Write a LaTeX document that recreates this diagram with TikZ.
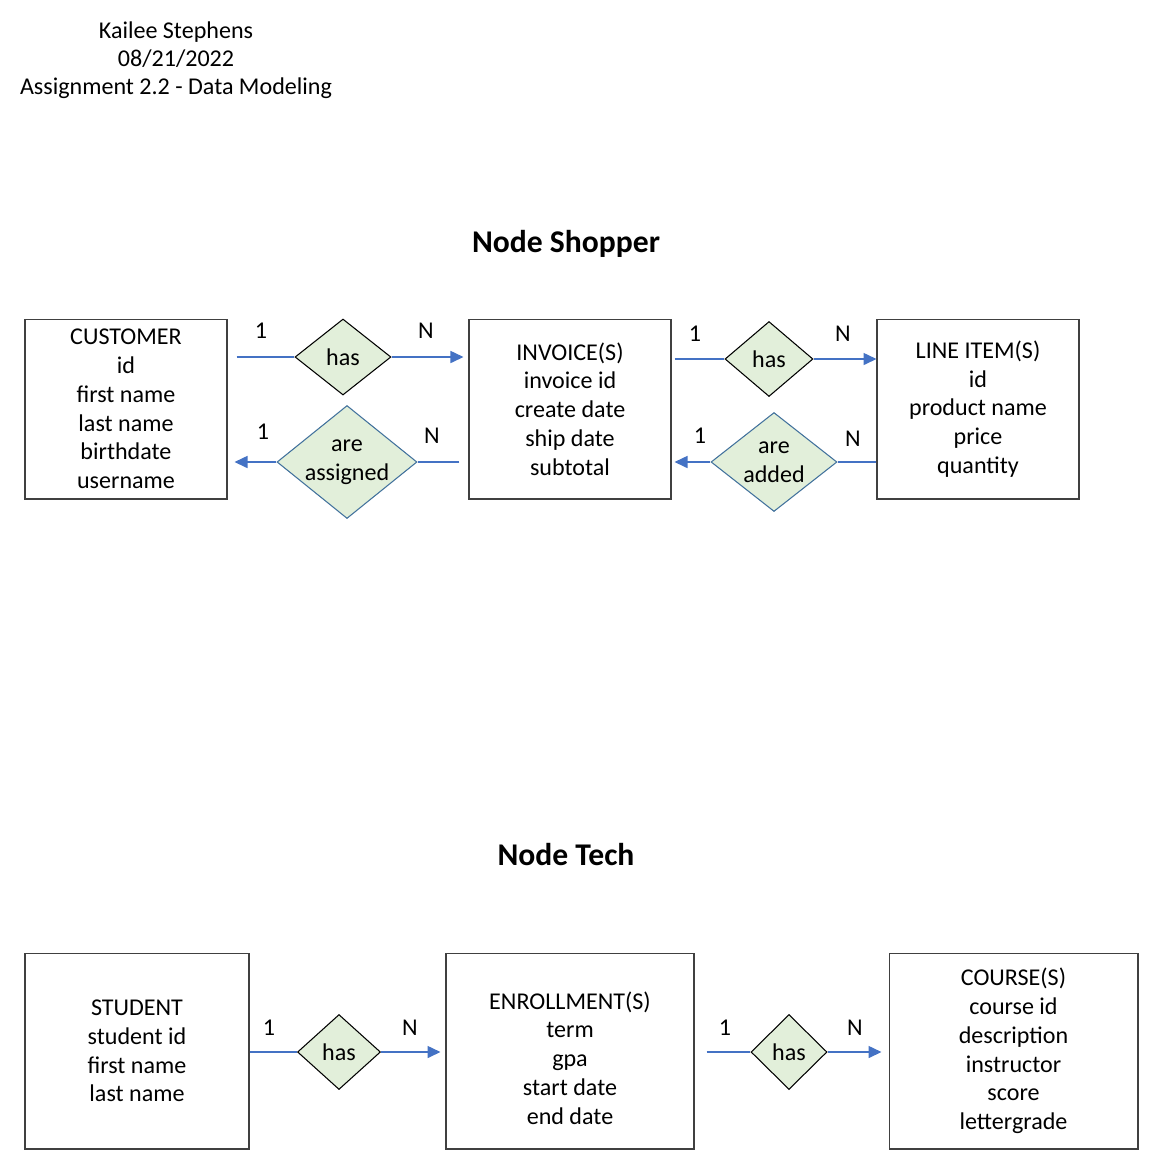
\documentclass[tikz,border=0pt]{standalone}
\usepackage{fontspec}
\setmainfont{Carlito}
\usepackage{xcolor}
\usetikzlibrary{arrows.meta,shapes.geometric}
\definecolor{linkblue}{HTML}{4472C4}
\definecolor{relfill}{HTML}{E2EFDA}
\definecolor{reledge}{HTML}{41719C}
\definecolor{boxgray}{HTML}{404040}
\tikzset{
	entity/.style={draw=boxgray, line width=0.6pt, align=center, inner sep=0pt, font=\fontsize{13.7}{16.4}\selectfont},
	rel/.style={diamond, draw=black, fill=relfill, line width=0.6pt, inner sep=0pt, align=center, font=\fontsize{13.7}{16.4}\selectfont},
	link/.style={draw=linkblue, line width=0.9pt},
	tolink/.style={link, -{Triangle[length=0.26cm,width=0.24cm]}},
	card/.style={font=\fontsize{13.7}{16.4}\selectfont},
	heading/.style={font=\fontsize{18}{21}\selectfont\bfseries}
}
\begin{document}
\begin{tikzpicture}[x=0.02cm,y=-0.02cm]
	\useasboundingbox (0,0) rectangle (1149,1161);
		%%  Header  %%%%%%%%
		\node[card, align=center, font=\fontsize{13.7}{15.9}\selectfont] (author) at (176,60) {Kailee Stephens\\08/21/2022\\Assignment 2.2 - Data Modeling};
		\node[heading] (shopper) at (566,244) {Node Shopper};
		\node[heading] (tech) at (566,855) {Node Tech};
		%%  Node Shopper  %%%%%%%%
		\node[entity, minimum width=4.04cm, minimum height=3.6cm] (cust) at (126,409) {CUSTOMER\\id\\first name\\last name\\birthdate\\username};
		\node[entity, minimum width=4.04cm, minimum height=3.6cm] (inv) at (570,409) {INVOICE(S)\\invoice id\\create date\\ship date\\subtotal};
		\node[entity, minimum width=4.04cm, minimum height=3.6cm] (item) at (978,409) {LINE ITEM(S)\\id\\product name\\price\\quantity};
		\node[rel, minimum width=1.92cm, minimum height=1.52cm] (has1) at (343,357) {has};
		\node[rel, draw=reledge, minimum width=2.8cm, minimum height=2.26cm, label={[card, align=center]center:are\\assigned}] (asg) at (347,462) {};
		\node[rel, minimum width=1.76cm, minimum height=1.5cm] (has2) at (769,359) {has};
		\node[rel, draw=reledge, minimum width=2.52cm, minimum height=1.98cm, label={[card, align=center]center:are\\added}] (add) at (774,462) {};
		\draw[link, shorten <=0.18cm] (cust.east |- has1.west) -- (has1.west);
		\draw[tolink, shorten >=0.1cm] (has1.east) -- (inv.west |- has1.east);
		\draw[link, shorten <=0.18cm] (inv.west |- asg.east) -- (asg.east);
		\draw[tolink, shorten >=0.14cm] (asg.west) -- (cust.east |- asg.west);
		\draw[link, shorten <=0.06cm] (inv.east |- has2.west) -- (has2.west);
		\draw[tolink] (has2.east) -- (item.west |- has2.east);
		\draw[link] (item.west |- add.east) -- (add.east);
		\draw[tolink, shorten >=0.06cm] (add.west) -- (inv.east |- add.west);
		\node[card] (c1) at (261,331) {1};
		\node[card] (n1) at (426,331) {N};
		\node[card] (c2) at (263,432) {1};
		\node[card] (n2) at (432,436) {N};
		\node[card] (c3) at (695,334) {1};
		\node[card] (n3) at (843,334) {N};
		\node[card] (c4) at (700,436) {1};
		\node[card] (n4) at (853,439) {N};
		%%  Node Tech  %%%%%%%%
		\node[entity, minimum width=4.48cm, minimum height=3.92cm] (stud) at (137,1051) {STUDENT\\student id\\first name\\last name};
		\node[entity, minimum width=4.96cm, minimum height=3.92cm, label={[card, align=center, yshift=-0.14cm]center:ENROLLMENT(S)\\term\\gpa\\start date\\end date}] (enr) at (570,1051) {};
		\node[entity, minimum width=4.98cm, minimum height=3.92cm] (crs) at (1013.5,1051) {COURSE(S)\\course id\\description\\instructor\\score\\lettergrade};
		\node[rel, minimum width=1.66cm, minimum height=1.5cm] (has3) at (339,1052) {has};
		\node[rel, minimum width=1.52cm, minimum height=1.5cm] (has4) at (789,1052) {has};
		\draw[link] (stud.east |- has3.west) -- (has3.west);
		\draw[tolink, shorten >=0.1cm] (has3.east) -- (enr.west |- has3.east);
		\draw[link, shorten <=0.24cm] (enr.east |- has4.west) -- (has4.west);
		\draw[tolink, shorten >=0.14cm] (has4.east) -- (crs.west |- has4.east);
		\node[card] (c5) at (269,1028) {1};
		\node[card] (n5) at (410,1028) {N};
		\node[card] (c6) at (725,1028) {1};
		\node[card] (n6) at (855,1028) {N};
		%%%%%%%%%%%%%%%
	\end{tikzpicture}
\end{document}
